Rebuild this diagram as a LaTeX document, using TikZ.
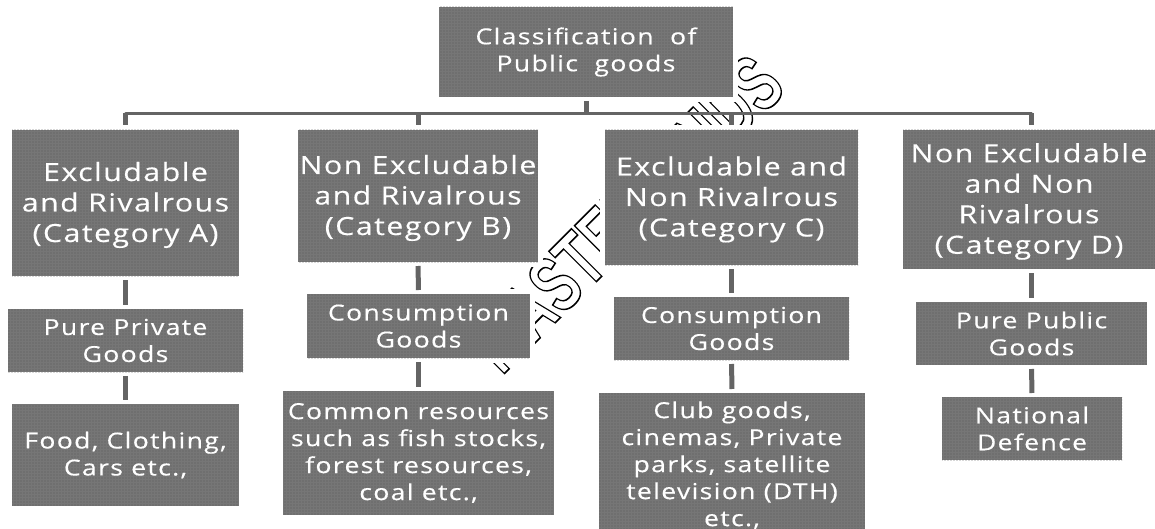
\documentclass[tikz,border=0pt]{standalone}
\usepackage{fontspec}
\setmainfont[LetterSpace=6,FakeStretch=1.21,FakeBold=0.4]{Open Sans}
\newfontfamily\wmfont{Liberation Sans Bold}
\usetikzlibrary{patterns.meta,calc}
\definecolor{boxgray}{HTML}{767676}
\definecolor{dotgray}{HTML}{5A5A5A}
\newcommand{\tl}{\rule{0pt}{23pt}}
\tikzset{
  gbox/.style={rectangle,inner sep=0pt,outer sep=0pt,align=center,text=white,fill=boxgray,
    preaction={draw=white,line width=10pt},
    postaction={pattern={Dots[radius=0.55pt,distance=3pt]},pattern color=dotgray}},
  big/.style={font=\fontsize{25}{30.5}\selectfont},
  med/.style={font=\fontsize{22}{27}\selectfont},
  conn/.style={draw=boxgray!85!black,line width=5pt,shorten <=4pt,shorten >=4pt},
  drop/.style={draw=boxgray!85!black,line width=5pt,shorten >=5pt},
  bus/.style={draw=boxgray!85!black,line width=3pt,line cap=round},
  wm/.style={font=\wmfont\fontsize{80}{80}\selectfont,inner sep=0pt,anchor=base,rotate=45,xscale=0.68,transform shape}
}
\begin{document}
\begin{tikzpicture}[x=1pt,y=-1pt]
\useasboundingbox (0,0) rectangle (1155,529);
% watermark
\node[wm] (mark) at (645,233) {\special{pdf:code 1 Tr 1.6 w}MASTERMINDS\special{pdf:code 0 Tr}};
% boxes
\node[gbox,med,minimum width=294pt,minimum height=90pt] (top) at (586,52) {Classification\ \ of\\Public\ \ goods};
\node[gbox,big,minimum width=227pt,minimum height=146pt] (A) at (125.5,203) {\tl Excludable\\and Rivalrous\\(Category A)};
\node[gbox,med,minimum width=235pt,minimum height=63pt] (A2) at (125.5,340.5) {Pure Private\\Goods};
\node[gbox,med,minimum width=227pt,minimum height=102pt] (A3) at (125.5,455) {Food, Clothing,\\Cars etc.,};
\node[gbox,big,minimum width=240pt,minimum height=132pt] (B) at (418,196) {\tl Non Excludable\\and Rivalrous\\(Category B)};
\node[gbox,med,minimum width=223pt,minimum height=64pt] (B2) at (418.5,326) {Consumption\\Goods};
\node[gbox,med,minimum width=271pt,minimum height=124pt] (B3) at (418.5,453) {Common resources\\such as fish stocks,\\forest resources,\\coal etc.,};
\node[gbox,big,minimum width=253pt,minimum height=135pt] (C) at (731.5,197.5) {\tl Excludable and\\Non Rivalrous\\(Category C)};
\node[gbox,med,minimum width=235pt,minimum height=63pt] (C2) at (731.5,328.5) {Consumption\\Goods};
\node[gbox,med,minimum width=266pt,minimum height=136pt] (C3) at (732,461) {\rule{0pt}{25pt}Club goods,\\cinemas, Private\\parks, satellite\\television (DTH)\\etc.,};
\node[gbox,big,minimum width=252pt,minimum height=139pt] (D) at (1029,199.5) {\tl Non Excludable\\and Non\\Rivalrous\\(Category D)};
\node[gbox,med,minimum width=231pt,minimum height=63pt] (D2) at (1031.5,333.5) {Pure Public\\Goods};
\node[gbox,med,minimum width=180pt,minimum height=63pt] (D3) at (1032,428.5) {National\\Defence};
% tree
\coordinate (hub) at (top.south |- 0,113.5);
\coordinate (busA) at (A.north |- hub);
\coordinate (busB) at (B.north |- hub);
\coordinate (busC) at (C.north |- hub);
\coordinate (busD) at (D2.north |- hub);
\draw[bus] (busA) -- (busD);
\draw[draw=boxgray!85!black,line width=5pt,shorten <=4pt] (top.south) -- (hub);
\draw[drop] (busA) -- (A.north);
\draw[drop] (busB) -- (B.north);
\draw[drop] (busC) -- (C.north);
\draw[drop] (busD) -- (D2.north |- D.north);
\draw[conn] (A.south) -- (A2.north);
\draw[conn] (A2.south) -- (A3.north);
\draw[conn] (B.south) -- (B2.north);
\draw[conn] (B2.south) -- (B3.north);
\draw[conn] (C.south) -- (C2.north);
\draw[conn] (C2.south) -- (C3.north);
\draw[conn] (D2.north |- D.south) -- (D2.north);
\draw[conn] (D2.south) -- (D3.north);
\end{tikzpicture}
\end{document}
